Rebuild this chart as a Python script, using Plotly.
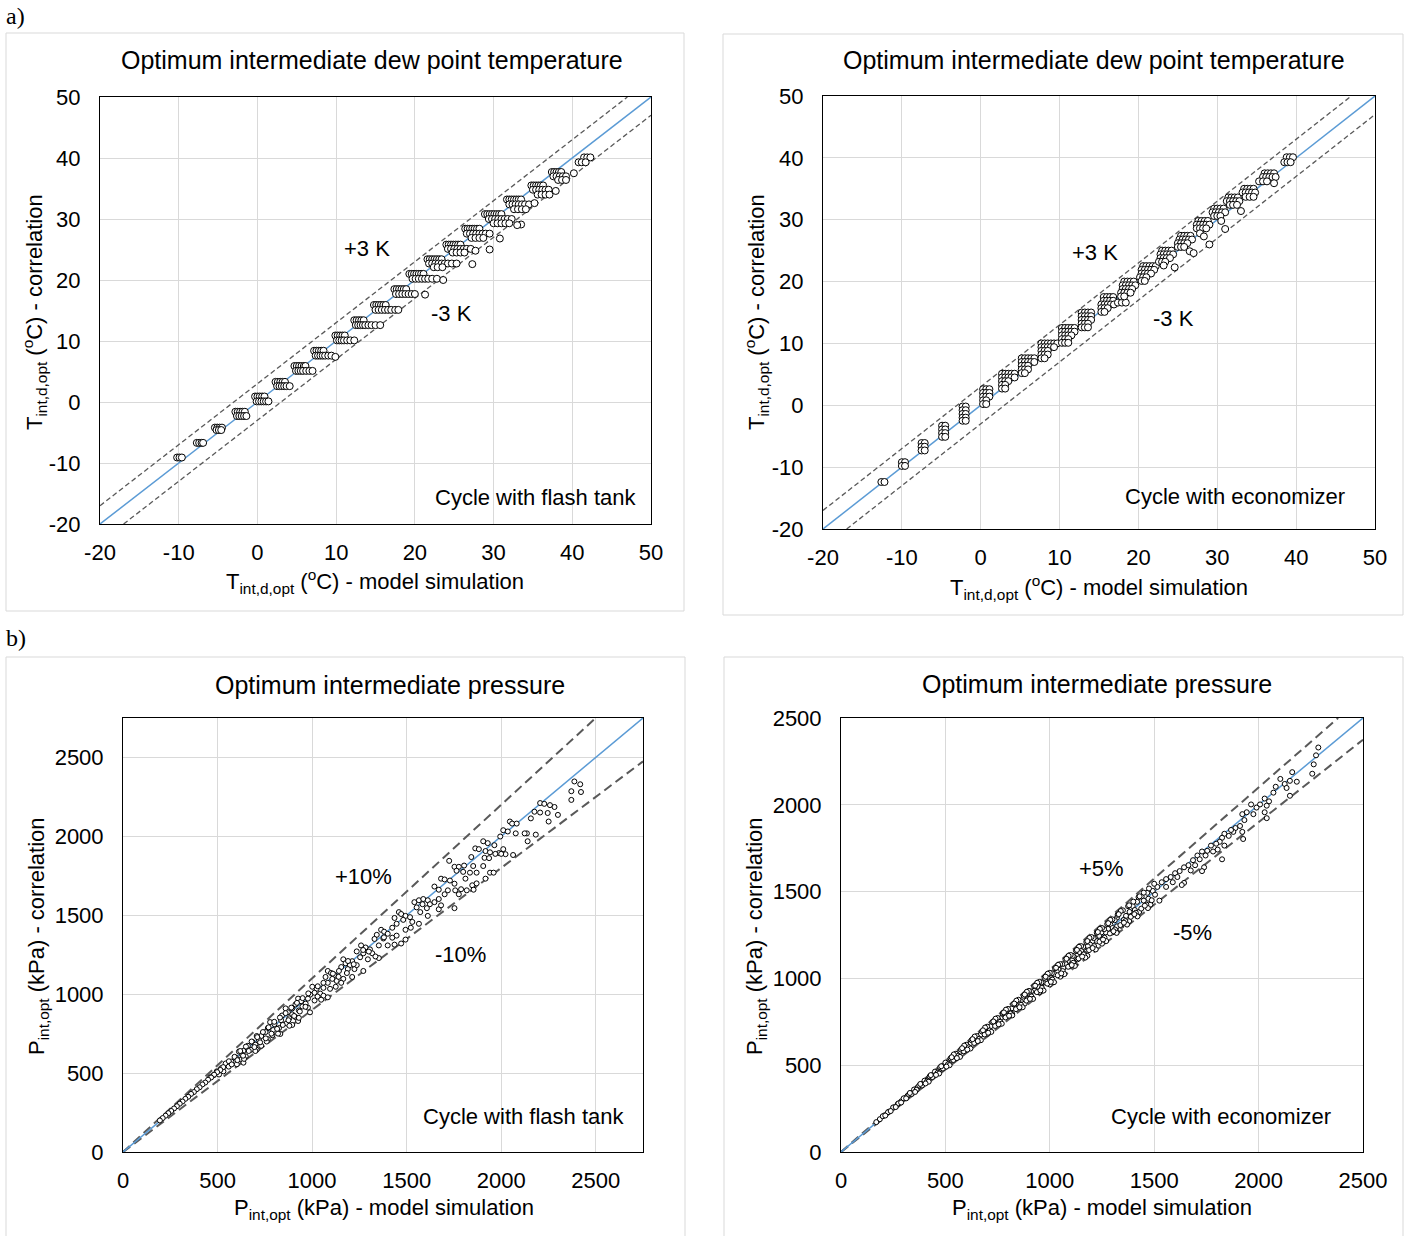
import plotly.graph_objects as go

W, H = 1411, 1236
FONT = "Liberation Sans, Arial, sans-serif"
SERIF = "Liberation Serif, Times New Roman, serif"

# ---------------- tick labels ----------------
T_tick_vals = [-20, -10, 0, 10, 20, 30, 40, 50]
T_tick_text = ["-20", "-10", "0", "10", "20", "30", "40", "50"]
P_tick_vals = [0, 500, 1000, 1500, 2000, 2500]
P_tick_text = ["0", "500", "1000", "1500", "2000", "2500"]

# ---------------- data: a) dew point temperature, cycle with flash tank ----------------
flash_T_model = [
    -10.2, -9.9, -9.6,
    -7.7, -7.4, -7.1, -6.9,
    -5.4, -5.1, -4.8, -4.5, -5.2, -4.9, -4.6,
    -2.8, -2.5, -2.2, -1.9, -1.6, -2.6, -2.3, -2.0, -1.7, -1.4,
    -0.3, 0.0, 0.3, 0.6, 0.9, -0.1, 0.2, 0.5, 0.8, 1.1, 1.4,
    2.3, 2.6, 2.9, 3.2, 3.5, 2.5, 2.8, 3.1, 3.4, 3.7, 4.1,
    4.7, 5.0, 5.3, 5.6, 5.9, 6.1, 4.9, 5.2, 5.5, 5.8, 6.2, 6.6, 7.0,
    7.2, 7.5, 7.8, 8.1, 8.4, 7.4, 7.7, 8.0, 8.3, 8.6, 9.0, 9.4, 9.9,
    9.9, 10.2, 10.5, 10.8, 11.1, 10.1, 10.4, 10.7, 11.0, 11.4, 11.8, 12.3,
    12.3, 12.6, 12.9, 13.2, 13.5, 12.5, 12.8, 13.1, 13.4, 13.7, 14.1, 14.5, 15.0, 15.6,
    14.8, 15.1, 15.4, 15.7, 16.0, 16.3, 15.0, 15.4, 15.8, 16.2, 16.6, 17.0, 17.5, 17.9,
    17.4, 17.7, 18.0, 18.3, 18.6, 18.9, 17.6, 18.0, 18.4, 18.8, 19.2, 19.6, 20.0, 21.3,
    19.3, 19.6, 19.9, 20.2, 20.5, 20.8, 21.1, 19.7, 20.1, 20.5, 20.9, 21.3, 21.7, 22.2, 22.8, 23.6,
    21.6, 21.9, 22.2, 22.5, 22.8, 23.1, 23.4, 21.8, 22.2, 22.6, 23.0, 23.4, 23.8, 24.2, 24.7, 25.3, 22.4, 22.9, 23.5, 27.3,
    24.0, 24.3, 24.6, 24.9, 25.2, 25.5, 25.8, 24.2, 24.6, 25.0, 25.4, 25.8, 26.2, 26.6, 27.1, 24.8, 25.3, 25.8, 26.3, 27.7,
    26.4, 26.7, 27.0, 27.3, 27.6, 27.9, 28.2, 26.6, 27.0, 27.4, 27.8, 28.2, 28.6, 29.0, 29.5, 27.2, 27.7, 28.2, 28.7, 29.5, 30.8,
    28.9, 29.2, 29.5, 29.8, 30.1, 30.4, 30.7, 31.0, 29.4, 29.8, 30.2, 30.6, 31.0, 31.4, 31.8, 32.3, 30.0, 30.5, 31.0, 31.5, 32.0, 33.5,
    31.7, 32.0, 32.3, 32.6, 32.9, 33.2, 33.5, 32.0, 32.4, 32.8, 33.2, 33.6, 34.0, 34.5, 32.6, 33.1, 33.6, 34.1, 35.2, 33.0,
    34.8, 35.1, 35.4, 35.7, 36.0, 36.3, 35.0, 35.4, 35.8, 36.2, 36.6, 37.0, 35.6, 36.1, 36.6, 37.1, 37.9,
    37.4, 37.7, 38.0, 38.3, 38.6, 37.6, 38.0, 38.4, 38.8, 39.2, 38.2, 38.7, 39.2, 40.2,
    41.5, 41.9, 42.3, 40.8, 41.2, 41.7,
]
flash_T_corr = [
    -9.1, -9.1, -9.1,
    -6.7, -6.7, -6.7, -6.7,
    -4.2, -4.2, -4.2, -4.2, -4.6, -4.6, -4.6,
    -1.6, -1.6, -1.6, -1.6, -1.6, -2.3, -2.3, -2.3, -2.3, -2.3,
    0.9, 0.9, 0.9, 0.9, 0.9, 0.1, 0.1, 0.1, 0.1, 0.1, 0.1,
    3.3, 3.3, 3.3, 3.3, 3.3, 2.6, 2.6, 2.6, 2.6, 2.6, 2.6,
    5.9, 5.9, 5.9, 5.9, 5.9, 5.9, 5.1, 5.1, 5.1, 5.1, 5.1, 5.1, 5.1,
    8.4, 8.4, 8.4, 8.4, 8.4, 7.6, 7.6, 7.6, 7.6, 7.6, 7.6, 7.6, 7.4,
    10.9, 10.9, 10.9, 10.9, 10.9, 10.1, 10.1, 10.1, 10.1, 10.1, 10.1, 10.1,
    13.4, 13.4, 13.4, 13.4, 13.4, 12.6, 12.6, 12.6, 12.6, 12.6, 12.6, 12.6, 12.6, 12.6,
    15.9, 15.9, 15.9, 15.9, 15.9, 15.9, 15.1, 15.1, 15.1, 15.1, 15.1, 15.1, 15.1, 15.1,
    18.5, 18.5, 18.5, 18.5, 18.5, 18.5, 17.7, 17.7, 17.7, 17.7, 17.7, 17.7, 17.7, 17.6,
    21.0, 21.0, 21.0, 21.0, 21.0, 21.0, 21.0, 20.2, 20.2, 20.2, 20.2, 20.2, 20.2, 20.2, 20.2, 20.0,
    23.4, 23.4, 23.4, 23.4, 23.4, 23.4, 23.4, 22.7, 22.7, 22.7, 22.7, 22.7, 22.7, 22.7, 22.7, 22.7, 22.1, 22.1, 22.1, 22.6,
    25.8, 25.8, 25.8, 25.8, 25.8, 25.8, 25.8, 25.1, 25.1, 25.1, 25.1, 25.1, 25.1, 25.1, 25.1, 24.5, 24.5, 24.5, 24.5, 24.8,
    28.4, 28.4, 28.4, 28.4, 28.4, 28.4, 28.4, 27.6, 27.6, 27.6, 27.6, 27.6, 27.6, 27.6, 27.6, 26.9, 26.9, 26.9, 26.9, 25.0, 26.8,
    30.8, 30.8, 30.8, 30.8, 30.8, 30.8, 30.8, 30.8, 30.0, 30.0, 30.0, 30.0, 30.0, 30.0, 30.0, 30.0, 29.3, 29.3, 29.3, 29.3, 29.3, 29.1,
    33.2, 33.2, 33.2, 33.2, 33.2, 33.2, 33.2, 32.4, 32.4, 32.4, 32.4, 32.4, 32.4, 32.4, 31.6, 31.6, 31.6, 31.6, 32.6, 29.0,
    35.5, 35.5, 35.5, 35.5, 35.5, 35.5, 34.8, 34.8, 34.8, 34.8, 34.8, 34.8, 34.0, 34.0, 34.0, 34.0, 34.6,
    37.7, 37.7, 37.7, 37.7, 37.7, 37.0, 37.0, 37.0, 37.0, 37.0, 36.4, 36.4, 36.4, 37.5,
    40.1, 40.1, 40.1, 39.3, 39.3, 39.3,
]

# ---------------- data: a) dew point temperature, cycle with economizer ----------------
econ_T_model = [
    -12.6, -12.2,
    -10.0, -9.6, -10.0, -9.6,
    -7.5, -7.1, -7.5, -7.1, -7.5, -7.1,
    -4.9, -4.5, -4.9, -4.5, -4.9, -4.5, -4.9, -4.5,
    -2.3, -1.9, -2.3, -1.9, -2.3, -1.9, -2.3, -1.9, -2.3, -1.9,
    0.3, 0.7, 1.1, 0.3, 0.7, 1.1, 0.3, 0.7, 1.1, 0.3, 0.7, 0.3, 0.7,
    2.7, 3.1, 3.5, 3.9, 4.3, 2.7, 3.1, 3.5, 3.9, 4.3, 2.7, 3.1, 3.5, 2.7, 3.1, 2.7, 3.1,
    5.2, 5.6, 6.0, 6.4, 6.8, 5.2, 5.6, 6.0, 6.4, 6.8, 5.2, 5.6, 6.0, 5.2, 5.6, 6.0, 5.2, 5.6,
    7.7, 8.1, 8.5, 8.9, 9.3, 9.7, 7.7, 8.1, 8.5, 8.9, 9.3, 7.7, 8.1, 8.5, 7.7, 8.1, 8.5, 7.7, 8.1,
    10.3, 10.7, 11.1, 11.5, 11.9, 10.3, 10.7, 11.1, 11.5, 11.9, 10.3, 10.7, 11.1, 11.5, 10.3, 10.7, 11.1, 10.3, 10.7, 11.1,
    12.8, 13.2, 13.6, 14.0, 12.8, 13.2, 13.6, 14.0, 12.8, 13.2, 13.6, 14.0, 12.8, 13.2, 13.6, 12.8, 13.2, 13.6,
    15.6, 16.0, 16.4, 16.8, 15.6, 16.0, 16.4, 16.8, 15.3, 15.7, 16.1, 16.5, 16.9, 17.4, 17.9, 18.4, 15.3, 15.7, 16.1, 15.3, 15.7,
    18.2, 18.6, 19.0, 19.4, 18.0, 18.4, 18.8, 19.2, 19.6, 18.0, 18.4, 18.8, 19.2, 17.8, 18.2, 18.6, 19.0, 17.8, 18.2,
    20.6, 21.0, 21.4, 21.8, 22.2, 20.4, 20.8, 21.2, 21.6, 22.0, 20.4, 20.8, 21.2, 21.6, 20.2, 20.6, 21.0, 20.4, 20.8,
    23.0, 23.4, 23.8, 24.2, 22.8, 23.2, 23.6, 24.0, 24.4, 22.8, 23.2, 23.6, 24.0, 22.6, 23.0, 23.4, 23.2, 24.6,
    25.4, 25.8, 26.2, 26.6, 25.2, 25.6, 26.0, 26.4, 26.8, 25.0, 25.4, 25.8, 26.2, 25.0, 25.4, 25.8, 26.5, 27.0,
    27.6, 28.0, 28.4, 28.8, 27.4, 27.8, 28.2, 28.6, 29.0, 27.4, 27.8, 28.2, 28.6, 27.8, 28.3, 29.0,
    29.6, 30.0, 30.4, 30.8, 29.4, 29.8, 30.2, 30.6, 31.0, 29.6, 30.0, 30.4, 30.5, 31.0,
    31.4, 31.8, 32.2, 32.6, 31.2, 31.6, 32.0, 32.4, 32.8, 31.6, 32.0, 32.5, 33.0,
    33.4, 33.8, 34.2, 34.6, 33.2, 33.6, 34.0, 34.4, 34.8, 33.6, 34.1, 34.6,
    36.0, 36.4, 36.8, 37.2, 35.8, 36.2, 36.6, 37.0, 37.4, 35.3, 35.8, 36.3, 37.2,
    38.8, 39.2, 39.6, 38.5, 38.9, 39.3,
]
econ_T_corr = [
    -12.4, -12.4,
    -9.2, -9.2, -9.8, -9.8,
    -6.1, -6.1, -6.7, -6.7, -7.3, -7.3,
    -3.3, -3.3, -3.9, -3.9, -4.5, -4.5, -5.1, -5.1,
    -0.2, -0.2, -0.8, -0.8, -1.4, -1.4, -2.0, -2.0, -2.5, -2.5,
    2.6, 2.6, 2.6, 2.0, 2.0, 2.0, 1.4, 1.4, 1.4, 0.8, 0.8, 0.2, 0.2,
    5.1, 5.1, 5.1, 5.1, 5.1, 4.5, 4.5, 4.5, 4.5, 4.5, 3.9, 3.9, 3.9, 3.3, 3.3, 2.7, 2.7,
    7.6, 7.6, 7.6, 7.6, 7.6, 7.0, 7.0, 7.0, 7.0, 7.0, 6.4, 6.4, 6.4, 5.8, 5.8, 5.8, 5.2, 5.2,
    10.0, 10.0, 10.0, 10.0, 10.0, 10.0, 9.4, 9.4, 9.4, 9.4, 9.4, 8.8, 8.8, 8.8, 8.2, 8.2, 8.2, 7.6, 7.6,
    12.5, 12.5, 12.5, 12.5, 12.5, 11.9, 11.9, 11.9, 11.9, 11.9, 11.3, 11.3, 11.3, 11.3, 10.7, 10.7, 10.7, 10.1, 10.1, 10.1,
    15.0, 15.0, 15.0, 15.0, 14.4, 14.4, 14.4, 14.4, 13.8, 13.8, 13.8, 13.8, 13.2, 13.2, 13.2, 12.6, 12.6, 12.6,
    17.5, 17.5, 17.5, 17.5, 16.9, 16.9, 16.9, 16.9, 16.3, 16.3, 16.3, 16.3, 16.3, 16.6, 16.6, 16.6, 15.7, 15.7, 15.7, 15.1, 15.1,
    20.0, 20.0, 20.0, 20.0, 19.4, 19.4, 19.4, 19.4, 19.4, 18.8, 18.8, 18.8, 18.8, 18.2, 18.2, 18.2, 18.2, 17.6, 17.6,
    22.5, 22.5, 22.5, 22.5, 22.5, 21.9, 21.9, 21.9, 21.9, 21.9, 21.3, 21.3, 21.3, 21.3, 20.7, 20.7, 20.7, 20.1, 20.1,
    25.0, 25.0, 25.0, 25.0, 24.4, 24.4, 24.4, 24.4, 24.4, 23.8, 23.8, 23.8, 23.8, 23.2, 23.2, 23.2, 22.6, 22.3,
    27.4, 27.4, 27.4, 27.4, 26.8, 26.8, 26.8, 26.8, 26.8, 26.2, 26.2, 26.2, 26.2, 25.6, 25.6, 25.6, 24.9, 24.6,
    29.8, 29.8, 29.8, 29.8, 29.2, 29.2, 29.2, 29.2, 29.2, 28.6, 28.6, 28.6, 28.6, 27.8, 27.3, 26.0,
    31.8, 31.8, 31.8, 31.8, 31.2, 31.2, 31.2, 31.2, 31.2, 30.6, 30.6, 30.6, 29.8, 28.5,
    33.6, 33.6, 33.6, 33.6, 33.0, 33.0, 33.0, 33.0, 33.0, 32.4, 32.4, 32.4, 31.4,
    35.0, 35.0, 35.0, 35.0, 34.4, 34.4, 34.4, 34.4, 34.4, 33.7, 33.7, 33.7,
    37.5, 37.5, 37.5, 37.5, 36.9, 36.9, 36.9, 36.9, 36.9, 36.2, 36.2, 36.2, 35.9,
    40.1, 40.1, 40.1, 39.3, 39.3, 39.3,
]

# ---------------- data: b) intermediate pressure, cycle with flash tank ----------------
flash_P_model = [
    2387, 2418, 2371, 2422, 2371,
    2206, 2228, 2176, 2206, 2246, 2258, 2282, 2300, 2157, 2251, 2136, 2183, 2140,
    2046, 2058, 2082, 2011, 2035, 2077, 2124, 1995, 2011, 2023, 2063,
    1905, 1929, 1964, 1988, 1863, 1882, 1917, 1941, 1969, 2000, 1912, 1936, 1842, 1941, 1960, 1917,
    1753, 1776, 1804, 1764, 1799, 1835, 1870, 1852, 1905, 1725, 1811, 1847, 1870,
    1682, 1701, 1729, 1753, 1647, 1670, 1718, 1757, 1788, 1818, 1854, 1701, 1776, 1753, 1670,
    1541, 1565, 1588, 1612, 1584, 1623, 1647, 1553, 1607, 1670, 1682, 1612, 1572,
    1459, 1471, 1494, 1518, 1436, 1482, 1530, 1565, 1447, 1494, 1424, 1522, 1494,
    1365, 1381, 1400, 1342, 1377, 1424, 1447, 1353, 1400, 1436, 1471, 1353,
    1259, 1283, 1306, 1236, 1271, 1318, 1254, 1295, 1335, 1212, 1271,
    1165, 1177, 1200, 1154, 1189, 1224, 1142, 1184, 1236, 1212, 1165,
    1083, 1100, 1118, 1071, 1107, 1083, 1130, 1154, 1060, 1125, 1095,
    1001, 1024, 1013, 1043, 990, 1029, 1060, 978, 1013, 1048, 1083,
    926, 942, 966, 912, 949, 978, 895, 930, 989,
    860, 872, 895, 841, 879, 912, 836, 865, 895, 926,
    778, 801, 766, 794, 825, 754, 790, 832, 731, 766,
    707, 719, 684, 700, 731, 660, 677, 707, 637,
    613, 630, 597, 625, 649, 573, 602, 637,
    543, 559, 519, 531, 496, 508, 479, 461,
    760, 820, 880, 930, 640, 700,
    530, 515, 498, 482, 466, 450, 435, 420, 405, 390, 375, 360, 345, 330, 315, 300, 285, 270, 255, 240, 225, 210, 195,
    560, 590, 620, 650, 680, 710, 740, 770, 800, 830, 860, 890, 920, 950, 980,
    575, 605, 635, 665, 695, 725, 755, 785, 815, 845, 875, 905, 935, 965,
    1030, 1060, 1110, 1140, 1190, 1220, 1270, 1300, 1330, 1380,
]
flash_P_corr = [
    2348, 2330, 2286, 2281, 2231,
    2211, 2206, 2156, 2151, 2148, 2198, 2186, 2136, 2114, 2094, 2019, 2011, 1969,
    2094, 2081, 2081, 2039, 2031, 2019, 2019, 1999, 1919, 1887, 1882,
    1969, 1957, 1944, 1894, 1924, 1919, 1907, 1899, 1889, 1889, 1864, 1862, 1869, 1770, 1770, 1732,
    1807, 1807, 1815, 1782, 1775, 1770, 1770, 1812, 1812, 1845, 1732, 1690, 1702,
    1732, 1727, 1720, 1700, 1682, 1662, 1658, 1658, 1665, 1658, 1662, 1633, 1633, 1545, 1603,
    1583, 1595, 1603, 1595, 1570, 1570, 1583, 1550, 1545, 1538, 1563, 1496, 1520,
    1520, 1508, 1496, 1488, 1483, 1471, 1458, 1446, 1446, 1408, 1421, 1421, 1346,
    1408, 1396, 1383, 1376, 1353, 1358, 1371, 1309, 1309, 1314, 1321, 1229,
    1309, 1296, 1284, 1271, 1259, 1259, 1234, 1221, 1239, 1209, 1147,
    1221, 1196, 1184, 1172, 1159, 1159, 1147, 1134, 1184, 1109, 1097,
    1147, 1134, 1122, 1109, 1097, 1072, 1084, 1072, 1072, 1047, 1034,
    1047, 1034, 1009, 1004, 997, 985, 990, 972, 960, 965, 980,
    972, 955, 940, 935, 922, 915, 910, 897, 885,
    910, 885, 872, 865, 847, 855, 835, 815, 805, 830,
    823, 810, 785, 773, 785, 760, 740, 748, 735, 715,
    735, 710, 698, 680, 673, 673, 648, 648, 641,
    636, 616, 598, 586, 606, 573, 556, 566,
    561, 541, 531, 511, 511, 491, 486, 474,
    700, 750, 800, 850, 590, 640,
    538, 520, 506, 490, 472, 458, 440, 428, 410, 398, 380, 368, 350, 337, 320, 306, 290, 276, 260, 246, 230, 215, 200,
    575, 603, 640, 668, 700, 728, 760, 790, 825, 852, 880, 915, 945, 975, 1005,
    555, 582, 610, 640, 665, 695, 720, 750, 780, 805, 835, 862, 890, 920,
    1050, 1040, 1130, 1110, 1210, 1190, 1280, 1270, 1350, 1360,
]

# ---------------- data: b) intermediate pressure, cycle with economizer ----------------
econ_P_model = [
    2286, 2275, 2264, 2257,
    2161, 2150, 2125, 2183, 2134, 2150, 2104, 2082, 2071,
    2029, 2050, 2007, 2039, 1990, 2029, 2039, 1964, 1975, 1943,
    1922, 1932, 1911, 1922, 1926, 1889, 1879, 1857, 1868, 1836,
    1825, 1814, 1797, 1836, 1804, 1772, 1782, 1825, 1754, 1746,
    1729, 1707, 1686, 1718, 1696, 1664, 1643, 1675, 1739, 1729, 1622,
    1600, 1611, 1579, 1557, 1589, 1536, 1557, 1643, 1632,
    1515, 1493, 1504, 1467, 1472, 1440, 1450, 1525, 1482, 1418,
    1397, 1407, 1382, 1390, 1365, 1354, 1375, 1418, 1428, 1343,
    1322, 1311, 1290, 1300, 1279, 1268, 1322, 1300,
    1247, 1236, 1215, 1225, 1204, 1257, 1193, 1182,
    1161, 1150, 1140, 1129, 1118, 1168, 1107, 1133,
    1086, 1075, 1054, 1065, 1043, 1033, 1097, 1022,
    1005, 990, 979, 968, 958, 1001, 947, 925,
    910, 898, 883, 872, 861, 850, 893, 840,
    829, 818, 803, 786, 775, 765, 797, 754,
    733, 718, 700, 683, 668, 653, 711, 636,
    621, 604, 589, 572, 555, 540, 593, 529,
    508, 491, 476, 454, 439, 422, 405, 390,
    368, 353, 336, 319, 304, 289, 272, 251, 229, 208, 186, 169,
    950, 1000, 1050, 1120, 1180, 1250, 1320, 1380, 880, 820, 760, 700,
    600, 650, 700, 750, 800, 850, 900, 960, 1010, 1060, 1110, 1160, 1210, 1260,
    200, 225, 250, 275, 300, 325, 350, 375, 400, 425, 450, 475, 500, 525, 550, 575, 600, 625,
    650, 675, 700, 725, 750, 775, 800, 825, 850, 875, 900, 925, 950, 975, 1000, 1025, 1050,
    1075, 1100, 1125, 1150, 1175, 1200, 1225, 1250, 1275, 1300, 1325, 1350, 1375, 1400, 1425,
    1450, 1475, 1500,
    212, 238, 262, 288, 312, 338, 362, 388, 412, 438, 462, 488, 512, 538, 562, 588, 612, 638,
    662, 688, 712, 738, 762, 788, 812, 838, 862, 888, 912, 938, 962, 988, 1012, 1038, 1062,
    1088, 1112, 1138, 1162, 1188, 1212, 1238, 1262, 1288, 1312, 1338, 1362, 1388, 1412, 1438,
    1462, 1488,
    420, 470, 520, 570, 620, 670, 720, 770, 820, 870, 920, 970, 1020, 1070, 1120, 1170, 1220,
    1270, 1320, 1370, 1420, 1470,
    540, 590, 640, 690, 740, 790, 840, 890, 940, 990, 1040, 1090, 1140, 1190, 1240, 1290, 1340,
    330, 380, 430, 480, 530, 580, 630, 680, 730, 780, 830, 880, 930, 980, 1030, 1080, 1130,
    1180, 1230, 1280, 1330, 1380, 1430,
    355, 405, 455, 505, 555, 605, 655, 705, 755, 805, 855, 905, 955, 1005, 1055, 1105, 1155,
    1205, 1255, 1305, 1355, 1405, 1455,
]
econ_P_corr = [
    2330, 2285, 2233, 2179,
    2188, 2138, 2120, 2133, 2097, 2052, 2149, 2104, 2070,
    2036, 2020, 2002, 1995, 1984, 1957, 1923, 2002, 1946, 1957,
    1946, 1912, 1878, 1844, 1803, 1866, 1844, 1821, 1855, 1833,
    1810, 1787, 1776, 1765, 1742, 1765, 1731, 1686, 1735, 1708,
    1731, 1708, 1681, 1686, 1652, 1652, 1640, 1622, 1640, 1618, 1618,
    1606, 1584, 1584, 1572, 1554, 1554, 1527, 1550, 1538,
    1527, 1504, 1482, 1493, 1459, 1471, 1448, 1448, 1425, 1441,
    1417, 1394, 1383, 1360, 1360, 1337, 1326, 1360, 1383, 1303,
    1350, 1335, 1310, 1290, 1285, 1265, 1300, 1265,
    1265, 1245, 1235, 1215, 1215, 1230, 1195, 1185,
    1175, 1160, 1150, 1130, 1120, 1140, 1105, 1110,
    1100, 1085, 1070, 1060, 1050, 1040, 1070, 1025,
    1020, 1003, 990, 975, 962, 985, 950, 930,
    925, 910, 895, 880, 868, 858, 880, 845,
    840, 828, 812, 795, 782, 770, 785, 760,
    740, 725, 705, 690, 675, 660, 700, 640,
    628, 610, 592, 578, 560, 548, 585, 530,
    512, 494, 480, 460, 442, 426, 410, 393,
    373, 357, 340, 324, 308, 292, 276, 255, 232, 211, 189, 172,
    920, 965, 1010, 1080, 1130, 1200, 1270, 1330, 855, 795, 740, 680,
    612, 662, 712, 765, 815, 866, 918, 978, 1030, 1082, 1130, 1182, 1232, 1283,
    206, 229, 257, 280, 309, 331, 360, 383, 411, 436, 463, 488, 515, 540, 566, 590, 618, 644,
    668, 694, 722, 748, 772, 800, 824, 851, 877, 900, 928, 955, 980, 1003, 1032, 1058, 1082,
    1108, 1135, 1160, 1186, 1210, 1238, 1263, 1290, 1313, 1340, 1366, 1392, 1416, 1442, 1468,
    1494, 1518, 1545,
    210, 236, 259, 285, 309, 334, 358, 383, 407, 432, 456, 481, 505, 530, 554, 580, 603, 628,
    652, 677, 700, 726, 750, 775, 798, 823, 848, 872, 896, 921, 945, 970, 993, 1018, 1042,
    1067, 1090, 1115, 1138, 1163, 1186, 1211, 1234, 1259, 1282, 1307, 1330, 1355, 1378, 1402,
    1425, 1450,
    405, 452, 500, 548, 596, 644, 692, 739, 787, 834, 882, 930, 978, 1025, 1072, 1120, 1167,
    1215, 1262, 1310, 1357, 1405,
    562, 613, 665, 717, 768, 820, 872, 923, 975, 1027, 1078, 1130, 1182, 1233, 1285, 1337, 1388,
    340, 392, 443, 494, 546, 598, 650, 701, 752, 804, 855, 907, 958, 1010, 1061, 1113, 1164,
    1215, 1267, 1318, 1370, 1421, 1473,
    346, 395, 444, 492, 541, 590, 639, 687, 736, 785, 834, 882, 931, 980, 1029, 1077, 1126,
    1175, 1224, 1272, 1321, 1370, 1419,
]

# ---------------- text ----------------
title_T = "Optimum intermediate dew point temperature"
title_P = "Optimum intermediate pressure"
xlab_T = "T<sub>int,d,opt</sub> (<sup>o</sup>C) - model simulation"
ylab_T = "T<sub>int,d,opt</sub> (<sup>o</sup>C) - correlation"
xlab_P = "P<sub>int,opt</sub> (kPa) - model simulation"
ylab_P = "P<sub>int,opt</sub> (kPa) - correlation"
cycle_labels = ["Cycle with flash tank", "Cycle with economizer"]
band_T = 3.0
band_P_flash = 0.10
band_P_econ = 0.05


def fx(p):
    return p / W


def fy(p):
    return 1 - p / H


panels = [
    dict(n="", xd=(100, 651), yd=(97, 524), rng=(-20, 50), tv=T_tick_vals, tt=T_tick_text,
         mx=flash_T_model, my=flash_T_corr, kind="abs", band=band_T, ms=7, dash="5px,3px", dw=1.3),
    dict(n="2", xd=(823, 1375), yd=(96, 529), rng=(-20, 50), tv=T_tick_vals, tt=T_tick_text,
         mx=econ_T_model, my=econ_T_corr, kind="abs", band=band_T, ms=7, dash="5px,3px", dw=1.3),
    dict(n="3", xd=(123, 643), yd=(718, 1152), rng=(0, 2750), tv=P_tick_vals, tt=P_tick_text,
         mx=flash_P_model, my=flash_P_corr, kind="rel", band=band_P_flash, ms=5, dash="9px,5px", dw=2),
    dict(n="4", xd=(841, 1363), yd=(718, 1152), rng=(0, 2500), tv=P_tick_vals, tt=P_tick_text,
         mx=econ_P_model, my=econ_P_corr, kind="rel", band=band_P_econ, ms=5, dash="9px,5px", dw=2),
]

fig = go.Figure()
layout_axes = {}
for p in panels:
    xa, ya = "x" + p["n"], "y" + p["n"]
    lo, hi = p["rng"]
    b = p["band"]
    if p["kind"] == "abs":
        up = ([lo, hi - b], [lo + b, hi])
        dn = ([lo + b, hi], [lo, hi - b])
    else:
        up = ([0, hi / (1 + b)], [0, hi])
        dn = ([0, hi], [0, hi * (1 - b)])
    for xs, ys in (up, dn):
        fig.add_trace(go.Scatter(x=xs, y=ys, mode="lines", xaxis=xa, yaxis=ya, showlegend=False,
                                 line=dict(color="#595959", width=p["dw"], dash=p["dash"]), hoverinfo="skip"))
    fig.add_trace(go.Scatter(x=[lo, hi], y=[lo, hi], mode="lines", xaxis=xa, yaxis=ya, showlegend=False,
                             line=dict(color="#5b9bd5", width=1.5), hoverinfo="skip"))
    n = min(len(p["mx"]), len(p["my"]))
    fig.add_trace(go.Scatter(x=p["mx"][:n], y=p["my"][:n], mode="markers", xaxis=xa, yaxis=ya, showlegend=False,
                             marker=dict(symbol="circle", size=p["ms"], color="white",
                                         line=dict(color="black", width=1))))
    common = dict(range=[lo, hi], tickmode="array", tickvals=p["tv"], ticktext=p["tt"],
                  showgrid=True, gridcolor="#d9d9d9", gridwidth=1, automargin=False,
                  zeroline=False, showline=True, linecolor="black", linewidth=1, mirror=True, ticks="",
                  tickfont=dict(family=FONT, size=22, color="black"), fixedrange=True)
    layout_axes["xaxis" + p["n"]] = dict(common, domain=[fx(p["xd"][0]), fx(p["xd"][1])], anchor=ya,
                                         ticklabelstandoff=9)
    layout_axes["yaxis" + p["n"]] = dict(common, domain=[fy(p["yd"][1]), fy(p["yd"][0])], anchor=xa,
                                         ticklabelstandoff=14)

fig.update_layout(width=W, height=H, autosize=False, margin=dict(l=0, r=0, t=0, b=0, pad=0),
                  paper_bgcolor="white", plot_bgcolor="white", showlegend=False, **layout_axes)

# outer chart-area boxes
shapes = []
for (x0, y0, x1, y1) in [(6, 33, 684, 611), (723, 34, 1403, 615), (6, 657, 685, 1245), (724, 657, 1403, 1245)]:
    shapes.append(dict(type="rect", xref="paper", yref="paper", x0=fx(x0), x1=fx(x1), y0=fy(y1), y1=fy(y0),
                       line=dict(color="#d9d9d9", width=1), fillcolor="rgba(0,0,0,0)", layer="below"))
fig.update_layout(shapes=shapes)


def ann(text, x, y, size=22, angle=0, family=FONT, xanchor="center"):
    return dict(text=text, x=fx(x), y=fy(y), xref="paper", yref="paper", showarrow=False,
                xanchor=xanchor, yanchor="middle", textangle=angle,
                font=dict(family=family, size=size, color="black"))


annotations = [
    ann("a)", 4, 16, size=24, family=SERIF, xanchor="left"),
    ann("b)", 4, 638, size=24, family=SERIF, xanchor="left"),
    ann(title_T, 372, 60, size=25),
    ann(title_T, 1094, 60, size=25),
    ann(title_P, 390, 685, size=25),
    ann(title_P, 1097, 684, size=25),
    ann(xlab_T, 375, 581),
    ann(xlab_T, 1099, 587),
    ann(xlab_P, 384, 1209),
    ann(xlab_P, 1102, 1209),
    ann(ylab_T, 34, 312, angle=-90),
    ann(ylab_T, 756, 312, angle=-90),
    ann(ylab_P, 38, 936, angle=-90),
    ann(ylab_P, 756, 936, angle=-90),
    ann("+3 K", 367, 248),
    ann("-3 K", 451, 313),
    ann(cycle_labels[0], 536, 497),
    ann("+3 K", 1095, 253),
    ann("-3 K", 1173, 318),
    ann(cycle_labels[1], 1235, 496),
    ann("+10%", 363, 876),
    ann("-10%", 460, 955),
    ann(cycle_labels[0], 524, 1116),
    ann("+5%", 1101, 868),
    ann("-5%", 1192, 932),
    ann(cycle_labels[1], 1221, 1116),
]
fig.update_layout(annotations=annotations)

fig.write_html("out.html")
